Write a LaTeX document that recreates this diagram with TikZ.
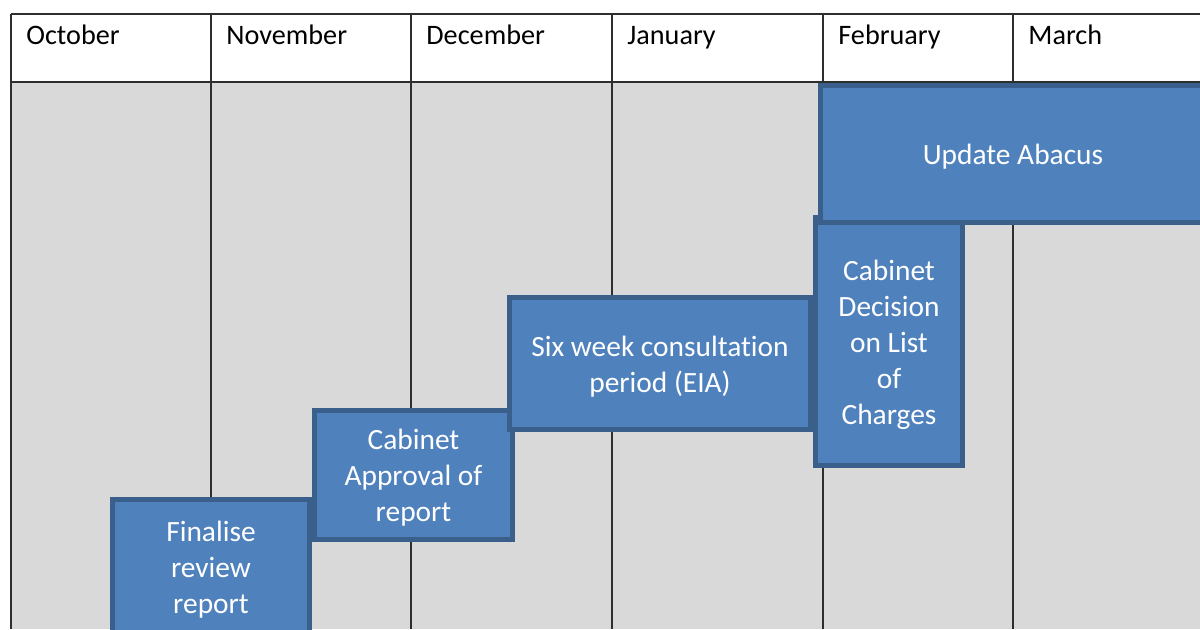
\documentclass[tikz,border=0pt]{standalone}
\usepackage{fontspec}
\setmainfont{Carlito}[Ligatures=NoCommon]
\definecolor{taskfill}{HTML}{4F81BD}
\definecolor{taskline}{HTML}{3A5F8B}
\definecolor{cellgrey}{HTML}{D9D9D9}
\tikzset{
	task/.style={draw=taskline, fill=taskfill, line width=2.5pt, inner sep=0pt},
	tasktext/.style={text=white, align=center, inner sep=0pt, font=\fontsize{14.7}{18}\selectfont},
	month/.style={anchor=base west, inner sep=0pt, font=\fontsize{14.1}{17}\selectfont},
	tableline/.style={line width=0.75pt, color=black!82}
}

\begin{document}
\begin{tikzpicture}[x=0.5pt, y=-0.5pt]
		%%%%% START %%%%%
		
		\useasboundingbox (0, 0) rectangle (1200, 629);
		\clip (0, 0) rectangle (1200, 629);
		\fill[white] (0, 0) rectangle (1200, 629);
		
		\fill[cellgrey] (11, 82) rectangle (1200, 629);
		\draw[tableline] (11, 14) -- (1200, 14);
		\draw[tableline] (11, 82) -- (1200, 82);
		\foreach \x in {11, 211, 411, 612, 823, 1013}
			\draw[tableline] (\x, 14) -- (\x, 629);
		
		\foreach \x/\m/\n in {11/October/oct, 211/November/nov, 411/December/dec, 612/January/jan, 823/February/feb, 1013/March/mar}
			\node[month] (\n) at (\x+15, 44) {\m};
		
		\node[task, minimum width=98.5pt, minimum height=67.5pt] (finalise) at (211, 567) {};
		\node[tasktext] (finalise-text) at ([yshift=-1.5pt]finalise.center) {Finalise\\review\\report};
		
		\node[task, minimum width=99pt, minimum height=64.5pt] (approval) at (413.5, 475) {};
		\node[tasktext] (approval-text) at ([yshift=-1.5pt]approval.center) {Cabinet\\Approval of\\report};
		
		\node[task, minimum width=150.5pt, minimum height=66pt] (consult) at (660, 363.5) {};
		\node[tasktext] (consult-text) at ([yshift=-1.5pt]consult.center) {Six week consultation\\period (EIA)};
		
		\node[task, minimum width=73.5pt, minimum height=124pt] (decision) at (889, 341.5) {};
		\node[tasktext] (decision-text) at ([yshift=-1.5pt]decision.center) {Cabinet\\Decision\\on List\\of\\Charges};
		
		\node[task, minimum width=192.5pt, minimum height=68.5pt] (abacus) at (1013, 154) {};
		\node[tasktext] (abacus-text) at ([yshift=-1.5pt]abacus.center) {Update Abacus};
		
		%%%%% END %%%%%
	\end{tikzpicture}
\end{document}
